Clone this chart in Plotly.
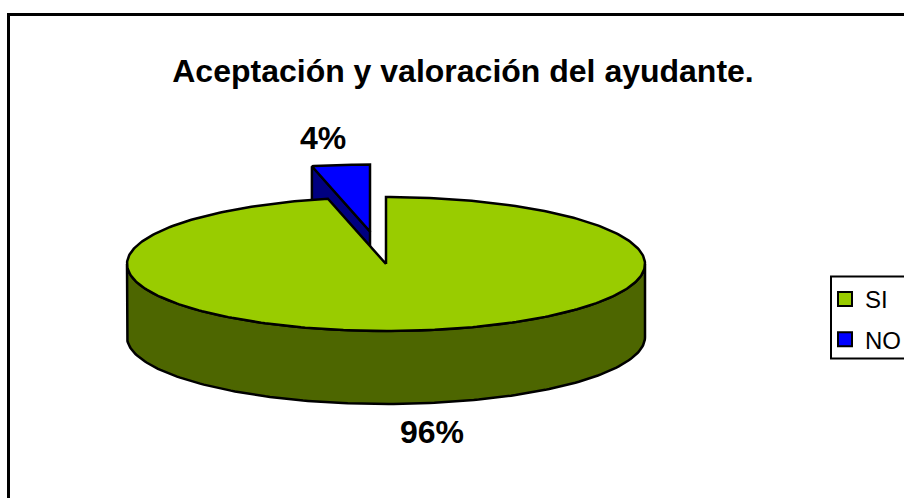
import numpy as np
import plotly.graph_objects as go

# Data
categories = ["SI", "NO"]
values = [96.4, 3.6]
top_colors = ["#99CC00", "#0000FF"]
side_colors = ["#4D6600", "#000080"]

# Projection of the tilted pie, in canvas pixels
W, H = 904, 498
CX, CY, RX, RY = 386, 264, 259, 67
DEPTH = 73
EXPLODE = (-16, -32.5)


def ell(t, cx, cy):
    return cx + RX * np.sin(t), cy - RY * np.cos(t)


def poly(fig, xs, ys, color):
    fig.add_trace(go.Scatter(
        x=xs, y=ys, mode="lines", fill="toself", fillcolor=color,
        line=dict(color="black", width=2.5), showlegend=False, hoverinfo="skip"))


fig = go.Figure()

total = sum(values)
split = values[0] / total * 2 * np.pi

# Exploded slice: cut face, then top surface
wx, wy = CX + EXPLODE[0], CY + EXPLODE[1]
ts = np.linspace(split, 2 * np.pi, 30)
rx_, ry_ = ell(ts, wx, wy)
px, py = rx_[0], ry_[0]
poly(fig, [px, wx, wx, px, px], [py, wy, wy + DEPTH, py + DEPTH, py], side_colors[1])
poly(fig, np.r_[wx, rx_, wx], np.r_[wy, ry_, wy], top_colors[1])

# Main slice: outer wall, then top surface
tw = np.linspace(np.pi / 2, 3 * np.pi / 2, 160)
ax, ay = ell(tw, CX, CY)
bx, by = ell(tw[::-1], CX, CY + DEPTH)
poly(fig, np.r_[ax, bx, ax[0]], np.r_[ay, by, ay[0]], side_colors[0])
tt = np.linspace(0, split, 360)
sx, sy = ell(tt, CX, CY)
poly(fig, np.r_[CX, sx, CX], np.r_[CY, sy, CY], top_colors[0])

# Percentage labels
labels = [f"{round(v / total * 100)}%" for v in values]
for lab, (lx, ly) in zip(labels, [(432, 432), (323, 138)]):
    fig.add_annotation(x=lx, y=ly, text=f"<b>{lab}</b>", showarrow=False,
                       font=dict(family="Liberation Sans", size=32, color="black"))

# Legend entries
for i, (name, col) in enumerate(zip(categories, top_colors)):
    fig.add_trace(go.Scatter(
        x=[None], y=[None], mode="markers", name=name, legendgroup=name,
        marker=dict(symbol="square", size=14, color=col, line=dict(color="black", width=2))))

fig.update_layout(
    width=W, height=H, margin=dict(l=0, r=0, t=0, b=0, autoexpand=False),
    paper_bgcolor="white", plot_bgcolor="white",
    xaxis=dict(range=[0, W], visible=False, fixedrange=True),
    yaxis=dict(range=[H, 0], visible=False, fixedrange=True),
    title=dict(text="<b>Aceptación y valoración del ayudante.</b>", x=463 / W, xanchor="center",
               y=1 - 71 / H, yanchor="middle",
               font=dict(family="Liberation Sans", size=32, color="black")),
    legend=dict(x=825 / W, xanchor="left", y=1 - 277 / H, yanchor="top",
                font=dict(family="Liberation Sans", size=24, color="black"),
                bgcolor="rgba(0,0,0,0)", tracegroupgap=6, itemwidth=30,
                itemclick=False, itemdoubleclick=False),
    shapes=[
        dict(type="rect", x0=8.5, y0=14.5, x1=W + 20, y1=H + 20, line=dict(color="black", width=3), layer="below"),
        dict(type="rect", x0=831, y0=276.5, x1=W + 20, y1=358.5, line=dict(color="black", width=2), layer="below"),
    ],
)
fig.write_html("out.html", config={"displayModeBar": False},
               post_script="document.body.style.margin='0';document.body.style.overflow='hidden';")
